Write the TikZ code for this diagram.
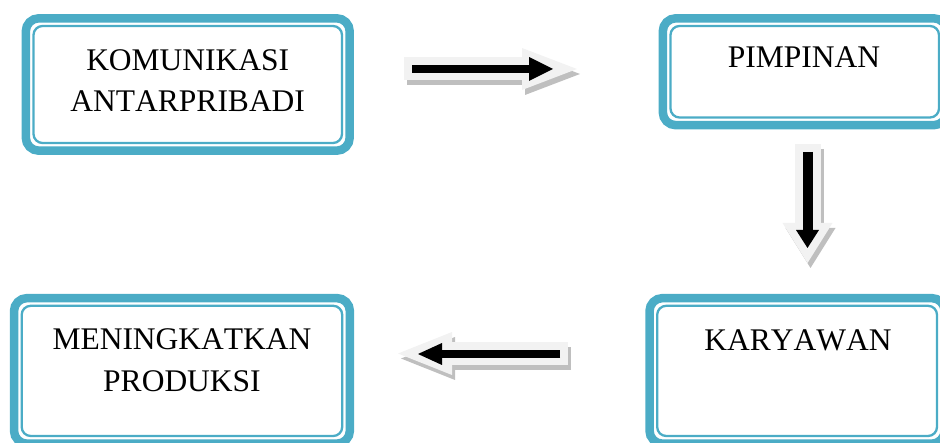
\documentclass[tikz,border=0pt]{standalone}
\usepackage{fontspec}
\setmainfont{Liberation Serif}[Kerning=Off]
\usetikzlibrary{arrows.meta,calc}
\definecolor{frameteal}{HTML}{4BACC6}
\definecolor{arrowlight}{HTML}{F2F2F2}
\definecolor{arrowshade}{HTML}{BFBFBF}
\begin{document}
\begin{tikzpicture}[x=1pt,y=-1pt,
  inbox/.style={draw=frameteal, line width=2.3pt, rounded corners=9pt, rectangle,
                inner sep=0pt, outer sep=0pt},
  outframe/.style={draw=frameteal, line width=8.5pt, rounded corners=13pt},
  lbl/.style={font=\fontsize{31.5}{41}\selectfont, inner sep=0pt, anchor=base},
  lightarrow/.style n args={3}{draw=arrowlight, line width=#1,
                -{Triangle[length=#2,width=#3,line width=0pt]}},
  shadearrow/.style n args={3}{draw=arrowshade, line width=#1,
                -{Triangle[length=#2,width=#3,line width=0pt]},
                transform canvas={xshift=3pt,yshift=-5pt}},
  corearrow/.style n args={3}{draw=black, line width=#1,
                -{Triangle[length=#2,width=#3,line width=0pt]}}
]
\useasboundingbox (0,0) rectangle (940,443);
\clip (0,0) rectangle (940,443);

% ---- boxes (inner thin frame as node) ----
\node[inbox, minimum width=308.5pt, minimum height=117pt] (kom) at (187.75,84.5) {};
\node[inbox, minimum width=268.5pt, minimum height=91.5pt] (pim) at (804.75,71.75) {};
\node[inbox, minimum width=320.5pt, minimum height=130.2pt] (men) at (181.95,370.9) {};
\node[inbox, minimum width=279.8pt, minimum height=130.2pt] (kar) at (797.1,370.9) {};

% ---- thick outer frames ----
\foreach \b in {kom,pim,men,kar}{
  \draw[outframe] ($(\b.north west)+(-7.7,-7.7)$) rectangle ($(\b.south east)+(7.7,7.7)$);
}

% ---- texts ----
\node[lbl] (t1) at (187.75,71) {KOMUNIKASI};
\node[lbl] (t2) at (187.75,112) {ANTARPRIBADI};
\node[lbl] (t3) at (804,68) {PIMPINAN};
\node[lbl] (t4) at (182,350) {MENINGKATKAN};
\node[lbl] (t5) at (182,392) {PRODUKSI};
\node[lbl] (t6) at (798,351) {KARYAWAN};

% ---- arrow end points ----
\coordinate (ra-s) at (404,69);   \coordinate (ra-e) at (577,69);
\coordinate (rb-s) at (412,69);   \coordinate (rb-e) at (553,69);
\coordinate (da-s) at (807.5,144); \coordinate (da-e) at (807.5,263);
\coordinate (db-s) at (807.5,152); \coordinate (db-e) at (807.5,248);
\coordinate (la-s) at (568,353.5); \coordinate (la-e) at (398,353.5);
\coordinate (lb-s) at (560,354);   \coordinate (lb-e) at (418,354);

% right arrow (KOMUNIKASI -> PIMPINAN)
\draw[shadearrow={23pt}{55pt}{42pt}] (ra-s) -- (ra-e);
\draw[lightarrow={23pt}{55pt}{42pt}] (ra-s) -- (ra-e);
\draw[corearrow={8.5pt}{24pt}{24pt}] (rb-s) -- (rb-e);

% down arrow (PIMPINAN -> KARYAWAN)
\draw[shadearrow={26pt}{40pt}{50pt}] (da-s) -- (da-e);
\draw[lightarrow={26pt}{40pt}{50pt}] (da-s) -- (da-e);
\draw[corearrow={10pt}{18pt}{23pt}] (db-s) -- (db-e);

% left arrow (KARYAWAN -> MENINGKATKAN)
\draw[shadearrow={23pt}{54pt}{43pt}] (la-s) -- (la-e);
\draw[lightarrow={23pt}{54pt}{43pt}] (la-s) -- (la-e);
\draw[corearrow={8pt}{24pt}{22pt}] (lb-s) -- (lb-e);
\end{tikzpicture}
\end{document}
